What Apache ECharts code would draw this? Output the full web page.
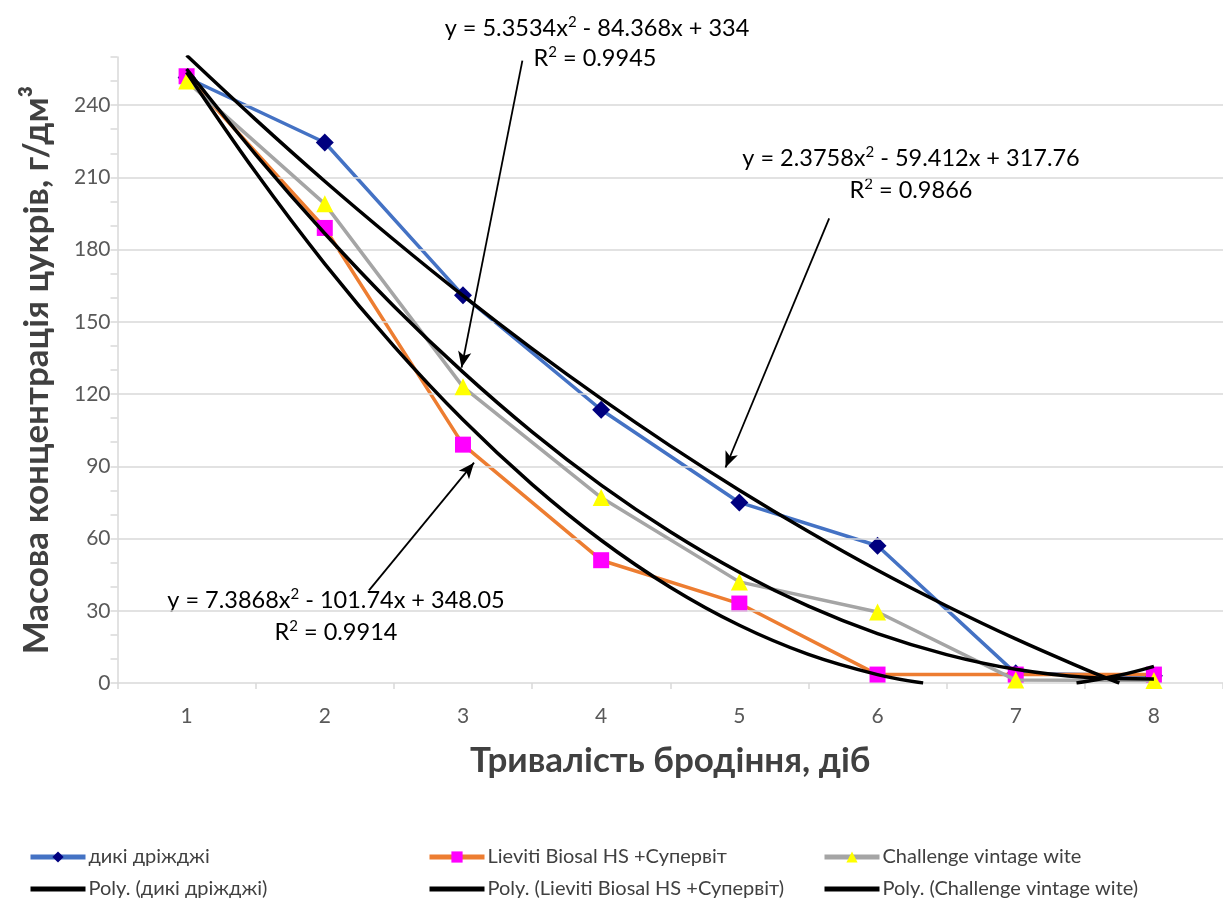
<!DOCTYPE html>
<html>
<head>
<meta charset="utf-8">
<script src="https://cdn.jsdelivr.net/npm/echarts@6/dist/echarts.min.js"></script>
<style>html,body{margin:0;padding:0;background:#fff;}#c{width:1223px;height:904px;}</style>
</head>
<body>
<div id="c"></div>
<script>
// ---- data ----
const categories = ['1','2','3','4','5','6','7','8'];
const wildYeast = [251.5, 224.5, 161, 113.5, 75, 57, 4, 3];
const lieviti = [252, 189, 99, 51, 33, 3.5, 3.5, 3.5];
const challenge = [250, 199, 123, 77, 42, 29.5, 1.2, 1];

// trendline points (day, value); null = curve hidden below the axis
const trendWildX = [1, 1.5, 2, 2.5, 3, 3.5, 4, 4.5, 5, 5.5, 6, 6.5, 7, 7.5, 7.75];
const trendWild = [260.7, 234.0, 208.4, 184.1, 160.9, 138.9, 118.1, 98.5, 80.1, 62.9, 46.8, 32.0, 18.3, 5.8, 0];
const trendLievitiX = [1, 1.5, 2, 2.5, 3, 3.5, 4, 4.5, 5, 5.5, 6, 6.33, 6.9, 7.44, 7.75, 8];
const trendLieviti = [253.7, 212.1, 174.1, 139.9, 109.3, 82.5, 59.3, 39.8, 24.0, 11.9, 3.5, 0, null, 0, 3.2, 6.9];
const trendChallengeX = [1, 1.5, 2, 2.5, 3, 3.5, 4, 4.5, 5, 5.5, 6, 6.5, 7, 7.5, 8];
const trendChallenge = [255.0, 219.5, 186.7, 156.5, 129.1, 104.3, 82.2, 62.8, 46.0, 31.9, 20.5, 11.8, 5.7, 2.4, 1.7];

const gridValues = [30, 60, 90, 120, 150, 180, 210, 240];

const names = ['дикі дріжджі', 'Lieviti Biosal HS +Супервіт', 'Challenge vintage wite'];
const polyNames = names.map(n => 'Poly. (' + n + ')');

const FONT = 'Lato, "Open Sans", sans-serif';
const pairs = (xs, ys) => xs.map((x, i) => [x, ys[i] === null ? '-' : ys[i]]);
const BAR_ICON = 'path://M0,0H55V5H0Z';

const chart = echarts.init(document.getElementById('c'), null, {renderer: 'canvas'});

const trendStyle = {color: '#000', width: 3.5};

function legendAt(left, data) {
  return {left: left, top: 847, orient: 'vertical', itemGap: 12, itemWidth: 55, itemHeight: 14,
    padding: 0, lineStyle: {width: 5},
    textStyle: {fontSize: 20, lineHeight: 20, color: '#404040', fontFamily: FONT, padding: [0, 0, 0, -2]},
    data: data};
}

const eqRich = {
  sup: {fontSize: 15, verticalAlign: 'top', fontFamily: FONT, fill: '#000', color: '#000', lineHeight: 15}
};
function eqText(x, y, parts) {
  return {type: 'text', x: x, y: y, silent: true,
    style: {text: parts, font: '23.5px ' + FONT, fontSize: 23.5, fontFamily: FONT, fill: '#000',
      align: 'center', verticalAlign: 'middle', lineHeight: 26, rich: eqRich}};
}

const option = {
  backgroundColor: '#fff',
  animation: false,
  textStyle: {fontFamily: FONT},
  grid: {left: 117.5, top: 57, width: 1111, height: 626, containLabel: false},
  xAxis: [
    {
      type: 'category', data: categories, boundaryGap: true, gridIndex: 0,
      axisLine: {lineStyle: {color: '#D9D9D9', width: 1.5}},
      axisTick: {show: true, inside: false, length: 6, lineStyle: {color: '#D9D9D9', width: 1.5}},
      axisLabel: {color: '#595959', fontSize: 21, margin: 23, fontFamily: FONT},
      splitLine: {show: false},
      name: 'Тривалість бродіння, діб', nameLocation: 'middle', nameGap: 60,
      nameTextStyle: {fontSize: 35, fontWeight: 'bold', color: '#404040', fontFamily: FONT}
    },
    {type: 'value', min: 0.5, max: 8.5, show: false, gridIndex: 0}
  ],
  yAxis: {
    type: 'value', min: 0, max: 260, interval: 10,
    axisLine: {show: true, lineStyle: {color: '#D9D9D9', width: 1.5}},
    axisTick: {show: true, inside: false, length: 7, lineStyle: {color: '#D9D9D9', width: 1.5}},
    axisLabel: {color: '#595959', fontSize: 21, margin: 7, fontFamily: FONT,
      formatter: v => (v % 30 === 0 && v <= 240) ? String(v) : ''},
    splitLine: {show: false},
    name: 'Масова концентрація цукрів, г/дм³', nameLocation: 'middle', nameGap: 63, nameRotate: 90,
    nameTextStyle: {fontSize: 35, fontWeight: 'bold', color: '#404040', fontFamily: FONT}
  },
  legend: [
    legendAt(28, [names[0], {name: polyNames[0], icon: BAR_ICON}]),
    legendAt(427, [names[1], {name: polyNames[1], icon: BAR_ICON}]),
    legendAt(822, [names[2], {name: polyNames[2], icon: BAR_ICON}])
  ],
  series: [
    {
      name: '_grid', type: 'line', xAxisIndex: 1, data: [], z: 1, silent: true,
      markLine: {silent: true, symbol: 'none', label: {show: false},
        lineStyle: {color: '#D9D9D9', width: 1.5, type: 'solid'},
        data: gridValues.map(v => ({yAxis: v}))}
    },
    {
      name: names[0], type: 'line', data: wildYeast, z: 3,
      lineStyle: {color: '#4472C4', width: 3.5}, itemStyle: {color: '#00007F'},
      symbol: 'diamond', symbolSize: 18, showAllSymbol: true
    },
    {
      name: names[1], type: 'line', data: lieviti, z: 4,
      lineStyle: {color: '#ED7D31', width: 3.5}, itemStyle: {color: '#FF00FF'},
      symbol: 'rect', symbolSize: 16
    },
    {
      name: names[2], type: 'line', data: challenge, z: 5,
      lineStyle: {color: '#A5A5A5', width: 3.5}, itemStyle: {color: '#FFFF00'},
      symbol: 'triangle', symbolSize: 17
    },
    {
      name: polyNames[0], type: 'line', xAxisIndex: 1, data: pairs(trendWildX, trendWild), z: 6, clip: true,
      smooth: 0.4, symbol: 'none', lineStyle: trendStyle, itemStyle: {color: '#000'}
    },
    {
      name: polyNames[1], type: 'line', xAxisIndex: 1, data: pairs(trendLievitiX, trendLieviti), z: 6, clip: true,
      smooth: 0.4, symbol: 'none', connectNulls: false, lineStyle: trendStyle, itemStyle: {color: '#000'}
    },
    {
      name: polyNames[2], type: 'line', xAxisIndex: 1, data: pairs(trendChallengeX, trendChallenge), z: 6, clip: true,
      smooth: 0.4, symbol: 'none', lineStyle: trendStyle, itemStyle: {color: '#000'}
    },
    {
      name: '_arrows', type: 'line', xAxisIndex: 1, data: [], z: 7, silent: true,
      markLine: {silent: true, symbol: ['none', 'arrow'], symbolSize: [10, 16], label: {show: false},
        lineStyle: {color: '#000', width: 1.8, type: 'solid'},
        data: [
          [{coord: [3.43, 258.5]}, {coord: [2.99, 131]}],
          [{coord: [5.65, 193]}, {coord: [4.9, 89.5]}],
          [{coord: [2.32, 38.5]}, {coord: [3.08, 91.5]}]
        ]}
    }
  ],
  graphic: [
    eqText(597, 28, 'y = 5.3534x{sup|2} - 84.368x + 334'),
    eqText(595, 58, 'R{sup|2} = 0.9945'),
    eqText(911, 158, 'y = 2.3758x{sup|2} - 59.412x + 317.76'),
    eqText(911, 190, 'R{sup|2} = 0.9866'),
    eqText(336, 600, 'y = 7.3868x{sup|2} - 101.74x + 348.05'),
    eqText(336, 632, 'R{sup|2} = 0.9914')
  ]
};
chart.setOption(option);
</script>
</body>
</html>
